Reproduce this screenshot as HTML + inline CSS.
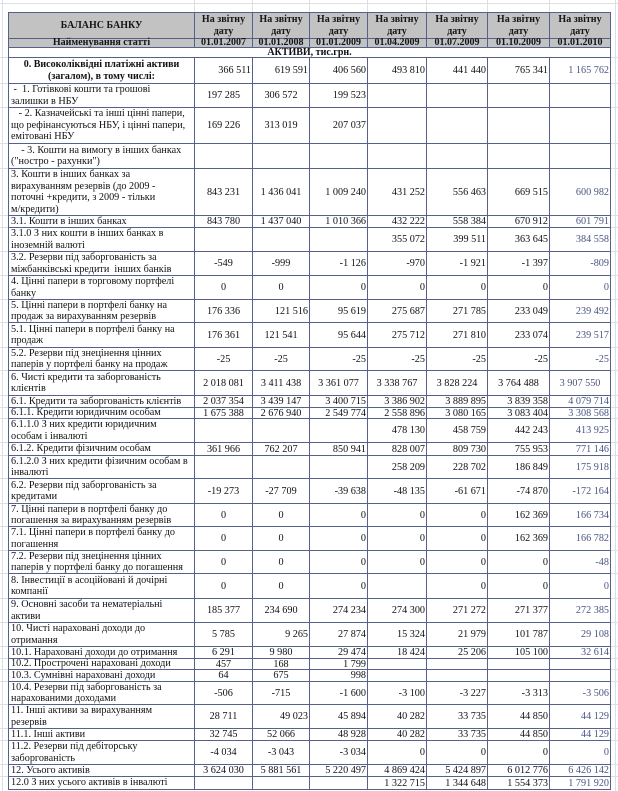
<!DOCTYPE html>
<html><head><meta charset="utf-8">
<style>
html,body{margin:0;padding:0;background:#fff;}
body{width:618px;height:791px;position:relative;overflow:hidden;font-family:"Liberation Serif","DejaVu Serif",serif;color:#111;}
.bgh{position:absolute;left:0;width:618px;height:1px;background:#dcdfe3;}
.bgv{position:absolute;top:0;height:791px;width:1px;background:#dcdfe3;}
.g{position:absolute;left:8px;top:12px;display:grid;padding:1px;gap:1px;background:#56618a;
grid-template-columns:185px 57px 56px 57px 58px 60px 61px 60px;
grid-template-rows:25px 8px 9px 25px 23px 35px 24px 46px 11px 23px 23px 23px 22px 24px 22px 24px 11px 10px 23px 12px 22px 24px 22px 23px 22px 24px 23px 23px 11px 10px 11px 22px 23px 11px 23px 11px 12px;}
.g>div{background:#fff;display:flex;align-items:center;justify-content:flex-end;font-size:10.2px;line-height:11px;white-space:nowrap;padding-right:1px;overflow:visible;}
.g>div.l{justify-content:flex-start;padding-left:2px;padding-right:0;line-height:11.5px;}
.g>div.c{justify-content:center;padding-right:0;}
.g>div.h{background:#c2c2c2;font-weight:bold;justify-content:center;text-align:center;line-height:11.5px;padding:0;color:#151515;font-size:10px;}
.g>div.h2{line-height:8px;}
.g>div.cb{justify-content:center;text-align:center;font-weight:bold;padding:0;font-size:10px;}
.g>div.sp{grid-column:1/-1;justify-content:center;font-weight:bold;padding:0;font-size:10px;line-height:9px;}
.g>div.b{color:#4b5680;}
</style></head><body>
<div class="bgh" style="top:3px"></div>
<div class="bgv" style="left:2px"></div>
<div class="bgv" style="left:615px"></div>
<div class="bgv" style="left:194px;height:14px"></div>
<div class="bgv" style="left:252px;height:14px"></div>
<div class="bgv" style="left:309px;height:14px"></div>
<div class="bgv" style="left:367px;height:14px"></div>
<div class="bgv" style="left:426px;height:14px"></div>
<div class="bgv" style="left:487px;height:14px"></div>
<div class="bgv" style="left:549px;height:14px"></div>
<div class="bgh" style="top:57px"></div><div class="bgh" style="top:83px"></div><div class="bgh" style="top:107px"></div><div class="bgh" style="top:143px"></div><div class="bgh" style="top:168px"></div><div class="bgh" style="top:215px"></div><div class="bgh" style="top:227px"></div><div class="bgh" style="top:251px"></div><div class="bgh" style="top:275px"></div><div class="bgh" style="top:299px"></div><div class="bgh" style="top:322px"></div><div class="bgh" style="top:347px"></div><div class="bgh" style="top:370px"></div><div class="bgh" style="top:395px"></div><div class="bgh" style="top:407px"></div><div class="bgh" style="top:418px"></div><div class="bgh" style="top:442px"></div><div class="bgh" style="top:455px"></div><div class="bgh" style="top:478px"></div><div class="bgh" style="top:503px"></div><div class="bgh" style="top:526px"></div><div class="bgh" style="top:550px"></div><div class="bgh" style="top:573px"></div><div class="bgh" style="top:598px"></div><div class="bgh" style="top:622px"></div><div class="bgh" style="top:646px"></div><div class="bgh" style="top:658px"></div><div class="bgh" style="top:669px"></div><div class="bgh" style="top:681px"></div><div class="bgh" style="top:704px"></div><div class="bgh" style="top:728px"></div><div class="bgh" style="top:740px"></div><div class="bgh" style="top:764px"></div><div class="bgh" style="top:776px"></div>

<div class="g">
<div class="h"><span>БАЛАНС БАНКУ</span></div>
<div class="h"><span>На звітну<br>дату</span></div>
<div class="h"><span>На звітну<br>дату</span></div>
<div class="h"><span>На звітну<br>дату</span></div>
<div class="h"><span>На звітну<br>дату</span></div>
<div class="h"><span>На звітну<br>дату</span></div>
<div class="h"><span>На звітну<br>дату</span></div>
<div class="h"><span>На звітну<br>дату</span></div>
<div class="h h2"><span>Найменування статті</span></div>
<div class="h h2"><span>01.01.2007</span></div>
<div class="h h2"><span>01.01.2008</span></div>
<div class="h h2"><span>01.01.2009</span></div>
<div class="h h2"><span>01.04.2009</span></div>
<div class="h h2"><span>01.07.2009</span></div>
<div class="h h2"><span>01.10.2009</span></div>
<div class="h h2"><span>01.01.2010</span></div>
<div class="sp"><span>АКТИВИ, тис.грн.</span></div>
<div class="cb" style="line-height:11.5px"><span>0. Високоліквідні платіжні активи<br>(загалом), в тому числі:</span></div>
<div>366 511</div><div>619 591</div><div>406 560</div><div>493 810</div><div>441 440</div><div>765 341</div><div class="b">1 165 762</div>
<div class="l"><span>&nbsp;- &nbsp;1. Готівкові кошти та грошові<br>залишки в НБУ</span></div>
<div class="c">197 285</div><div class="c">306 572</div><div>199 523</div><div></div><div></div><div></div><div></div>
<div class="l"><span>&nbsp;&nbsp; - 2. Казначейські та інші цінні папери,<br>що рефінансуються НБУ, і цінні папери,<br>емітовані НБУ</span></div>
<div class="c">169 226</div><div class="c">313 019</div><div>207 037</div><div></div><div></div><div></div><div></div>
<div class="l"><span>&nbsp;&nbsp;&nbsp; - 3. Кошти на вимогу в інших банках<br>("ностро - рахунки")</span></div>
<div></div><div></div><div></div><div></div><div></div><div></div><div></div>
<div class="l"><span>3. Кошти в інших банках за<br>вирахуванням резервів (до 2009 -<br>поточні +кредити, з 2009 - тільки<br>м/кредити)</span></div>
<div class="c">843 231</div><div class="c">1 436 041</div><div>1 009 240</div><div>431 252</div><div>556 463</div><div>669 515</div><div class="b">600 982</div>
<div class="l"><span>3.1. Кошти в інших банках</span></div>
<div class="c">843 780</div><div class="c">1 437 040</div><div>1 010 366</div><div>432 222</div><div>558 384</div><div>670 912</div><div class="b">601 791</div>
<div class="l"><span>3.1.0 З них кошти в інших банках в<br>іноземній валюті</span></div>
<div></div><div></div><div></div><div>355 072</div><div>399 511</div><div>363 645</div><div class="b">384 558</div>
<div class="l"><span>3.2. Резерви під заборгованість за<br>міжбанківські кредити &nbsp;інших банків</span></div>
<div class="c">-549</div><div class="c">-999</div><div>-1 126</div><div>-970</div><div>-1 921</div><div>-1 397</div><div class="b">-809</div>
<div class="l"><span>4. Цінні папери в торговому портфелі<br>банку</span></div>
<div class="c">0</div><div class="c">0</div><div>0</div><div>0</div><div>0</div><div>0</div><div class="b">0</div>
<div class="l"><span>5. Цінні папери в портфелі банку на<br>продаж за вирахуванням резервів</span></div>
<div class="c">176 336</div><div>121 516</div><div>95 619</div><div>275 687</div><div>271 785</div><div>233 049</div><div class="b">239 492</div>
<div class="l"><span>5.1. Цінні папери в портфелі банку на<br>продаж</span></div>
<div class="c">176 361</div><div class="c">121 541</div><div>95 644</div><div>275 712</div><div>271 810</div><div>233 074</div><div class="b">239 517</div>
<div class="l"><span>5.2. Резерви під знецінення цінних<br>паперів у портфелі банку на продаж</span></div>
<div class="c">-25</div><div class="c">-25</div><div>-25</div><div>-25</div><div>-25</div><div>-25</div><div class="b">-25</div>
<div class="l"><span>6. Чисті кредити та заборгованість<br>клієнтів</span></div>
<div class="c">2 018 081</div><div class="c">3 411 438</div><div class="c">3 361 077</div><div class="c">3 338 767</div><div class="c">3 828 224</div><div class="c">3 764 488</div><div class="c b">3 907 550</div>
<div class="l"><span>6.1. Кредити та заборгованість клієнтів</span></div>
<div class="c">2 037 354</div><div class="c">3 439 147</div><div>3 400 715</div><div>3 386 902</div><div>3 889 895</div><div>3 839 358</div><div class="b">4 079 714</div>
<div class="l"><span>6.1.1. Кредити юридичним особам</span></div>
<div class="c">1 675 388</div><div class="c">2 676 940</div><div>2 549 774</div><div>2 558 896</div><div>3 080 165</div><div>3 083 404</div><div class="b">3 308 568</div>
<div class="l"><span>6.1.1.0 З них кредити юридичним<br>особам і інвалюті</span></div>
<div></div><div></div><div></div><div>478 130</div><div>458 759</div><div>442 243</div><div class="b">413 925</div>
<div class="l"><span>6.1.2. Кредити фізичним особам</span></div>
<div class="c">361 966</div><div class="c">762 207</div><div>850 941</div><div>828 007</div><div>809 730</div><div>755 953</div><div class="b">771 146</div>
<div class="l"><span>6.1.2.0 З них кредити фізичним особам в<br>інвалюті</span></div>
<div></div><div></div><div></div><div>258 209</div><div>228 702</div><div>186 849</div><div class="b">175 918</div>
<div class="l"><span>6.2. Резерви під заборгованість за<br>кредитами</span></div>
<div class="c">-19 273</div><div class="c">-27 709</div><div>-39 638</div><div>-48 135</div><div>-61 671</div><div>-74 870</div><div class="b">-172 164</div>
<div class="l"><span>7. Цінні папери в портфелі банку до<br>погашення за вирахуванням резервів</span></div>
<div class="c">0</div><div class="c">0</div><div>0</div><div>0</div><div>0</div><div>162 369</div><div class="b">166 734</div>
<div class="l"><span>7.1. Цінні папери в портфелі банку до<br>погашення</span></div>
<div class="c">0</div><div class="c">0</div><div>0</div><div>0</div><div>0</div><div>162 369</div><div class="b">166 782</div>
<div class="l"><span>7.2. Резерви під знецінення цінних<br>паперів у портфелі банку до погашення</span></div>
<div class="c">0</div><div class="c">0</div><div>0</div><div>0</div><div>0</div><div>0</div><div class="b">-48</div>
<div class="l"><span>8. Інвестиції в асоційовані й дочірні<br>компанії</span></div>
<div class="c">0</div><div class="c">0</div><div>0</div><div></div><div>0</div><div>0</div><div class="b">0</div>
<div class="l"><span>9. Основні засоби та нематеріальні<br>активи</span></div>
<div class="c">185 377</div><div class="c">234 690</div><div>274 234</div><div>274 300</div><div>271 272</div><div>271 377</div><div class="b">272 385</div>
<div class="l"><span>10. Чисті нараховані доходи до<br>отримання</span></div>
<div class="c">5 785</div><div>9 265</div><div>27 874</div><div>15 324</div><div>21 979</div><div>101 787</div><div class="b">29 108</div>
<div class="l"><span>10.1. Нараховані доходи до отримання</span></div>
<div class="c">6 291</div><div class="c">9 980</div><div>29 474</div><div>18 424</div><div>25 206</div><div>105 100</div><div class="b">32 614</div>
<div class="l"><span>10.2. Прострочені нараховані доходи</span></div>
<div class="c">457</div><div class="c">168</div><div>1 799</div><div></div><div></div><div></div><div></div>
<div class="l"><span>10.3. Сумнівні нараховані доходи</span></div>
<div class="c">64</div><div class="c">675</div><div>998</div><div></div><div></div><div></div><div></div>
<div class="l"><span>10.4. Резерви під заборгованість за<br>нарахованими доходами</span></div>
<div class="c">-506</div><div class="c">-715</div><div>-1 600</div><div>-3 100</div><div>-3 227</div><div>-3 313</div><div class="b">-3 506</div>
<div class="l"><span>11. Інші активи за вирахуванням<br>резервів</span></div>
<div class="c">28 711</div><div>49 023</div><div>45 894</div><div>40 282</div><div>33 735</div><div>44 850</div><div class="b">44 129</div>
<div class="l"><span>11.1. Інші активи</span></div>
<div class="c">32 745</div><div class="c">52 066</div><div>48 928</div><div>40 282</div><div>33 735</div><div>44 850</div><div class="b">44 129</div>
<div class="l"><span>11.2. Резерви під дебіторську<br>заборгованість</span></div>
<div class="c">-4 034</div><div class="c">-3 043</div><div>-3 034</div><div>0</div><div>0</div><div>0</div><div class="b">0</div>
<div class="l"><span>12. Усього активів</span></div>
<div class="c">3 624 030</div><div class="c">5 881 561</div><div>5 220 497</div><div>4 869 424</div><div>5 424 897</div><div>6 012 776</div><div class="b">6 426 142</div>
<div class="l"><span>12.0 З них усього активів в інвалюті</span></div>
<div></div><div></div><div></div><div>1 322 715</div><div>1 344 648</div><div>1 554 373</div><div class="b">1 791 920</div>
</div>
</body></html>
